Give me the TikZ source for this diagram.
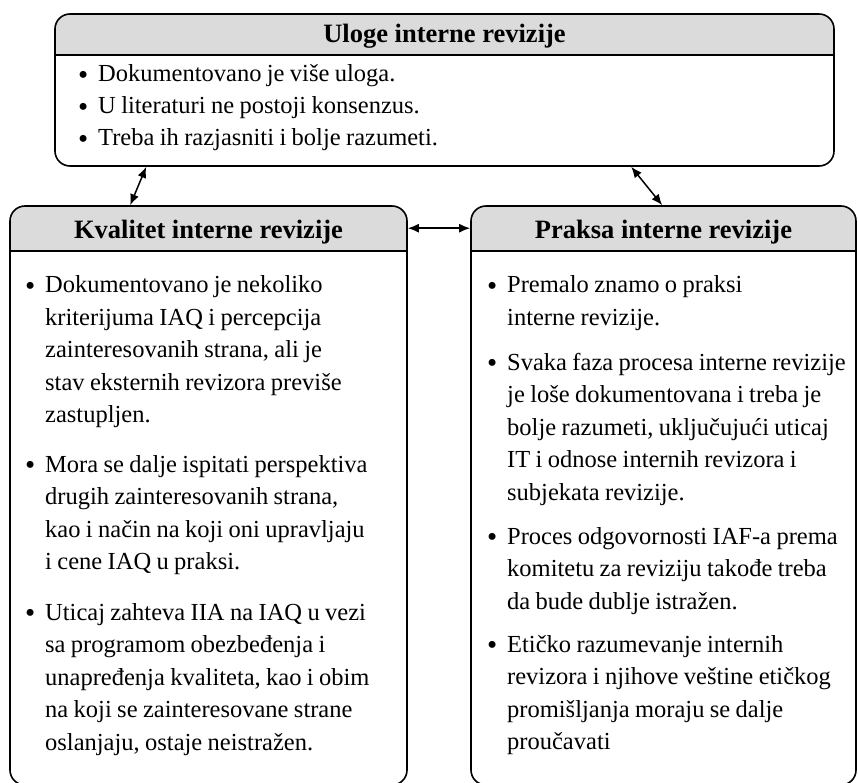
\documentclass[tikz,border=0pt]{standalone}
\usepackage{fontspec}
\setmainfont{Liberation Serif}
\usetikzlibrary{arrows.meta}

\definecolor{headgray}{gray}{0.86}
\newcommand\bulmark{\makebox[20pt][l]{\raisebox{-2.5pt}{\fontsize{29}{0}\selectfont\textbullet}}}

\tikzset{
  panel/.style={draw=black, line width=1.6pt, rounded corners=15pt, fill=white, inner sep=0pt,
    path picture={
      \fill[headgray, sharp corners] (path picture bounding box.north west)
        rectangle ([yshift=-#1]path picture bounding box.north east);
      \draw[line width=2.2pt, sharp corners] ([yshift=-#1]path picture bounding box.north west)
        -- ([yshift=-#1]path picture bounding box.north east);
    }},
  heading/.style={font=\fontsize{26.5}{30}\selectfont\bfseries, inner sep=0pt, anchor=base},
  point/.style={font=\fontsize{24.5}{32.5}\selectfont, inner sep=0pt, anchor=base west,
    text width=#1, execute at begin node={\spaceskip=0.22em plus 0.05em\hangindent=20pt\hangafter=1\raggedright}},
  link/.style={line width=1.5pt, {Latex[length=11pt,width=9pt]}-{Latex[length=11pt,width=9pt]}}
}

\begin{document}
\begin{tikzpicture}[x=1pt, y=-1pt]
  \useasboundingbox (0,0) rectangle (858,783);
  \clip (0,0) rectangle (858,783);

  % three panels
  \node[panel=41pt, minimum width=779pt, minimum height=152pt] (roles) at (444.5,90) {};
  \node[panel=45pt, minimum width=397pt, minimum height=579pt] (qual) at (208.5,495.5) {};
  \node[panel=45pt, minimum width=385pt, minimum height=579pt] (prac) at (663.5,495.5) {};

  % panel headings
  \node[heading] (rolesT) at (444.5,43) {Uloge interne revizije};
  \node[heading] (qualT) at (208.5,239) {Kvalitet interne revizije};
  \node[heading] (pracT) at (663.5,239) {Praksa interne revizije};

  % roles
  \node[point=700pt] (r1) at (78,82) {\bulmark Dokumentovano je više uloga.};
  \node[point=700pt] (r2) at (78,114) {\bulmark U literaturi ne postoji konsenzus.};
  \node[point=700pt] (r3) at (78,146) {\bulmark Treba ih razjasniti i bolje razumeti.};

  % quality
  \node[point=380pt] (q1) at (25,292.5) {\bulmark Dokumentovano je nekoliko\newline
    kriterijuma IAQ i percepcija\newline zainteresovanih strana, ali je\newline
    stav eksternih revizora previše\newline zastupljen.};
  \node[point=380pt] (q2) at (25,472) {\bulmark Mora se dalje ispitati perspektiva\newline
    drugih zainteresovanih strana,\newline kao i način na koji oni upravljaju\newline
    i cene IAQ u praksi.};
  \node[point=380pt] (q3) at (25,620) {\bulmark Uticaj zahteva IIA na IAQ u vezi\newline
    sa programom obezbeđenja i\newline unapređenja kvaliteta, kao i obim\newline
    na koji se zainteresovane strane\newline oslanjaju, ostaje neistražen.};

  % practice
  \node[point=370pt] (p1) at (487,292.5) {\bulmark Premalo znamo o praksi\newline interne revizije.};
  \node[point=370pt] (p2) at (487,370) {\bulmark Svaka faza procesa interne revizije\newline
    je loše dokumentovana i treba je\newline bolje razumeti, uključujući uticaj\newline
    IT i odnose internih revizora i\newline subjekata revizije.};
  \node[point=370pt] (p3) at (487,544) {\bulmark Proces odgovornosti IAF-a prema\newline
    komitetu za reviziju takođe treba\newline da bude dublje istražen.};
  \node[point=370pt] (p4) at (487,652) {\bulmark Etičko razumevanje internih\newline
    revizora i njihove veštine etičkog\newline promišljanja moraju se dalje\newline proučavati};

  % links between panels
  \draw[link] ([xshift=92pt]roles.south west) -- ([xshift=121pt]qual.north west);
  \draw[link] ([xshift=577pt]roles.south west) -- ([xshift=192pt]prac.north west);
  \draw[link] ([yshift=-23pt]qual.north east) -- ([yshift=-23pt]prac.north west);
\end{tikzpicture}
\end{document}
